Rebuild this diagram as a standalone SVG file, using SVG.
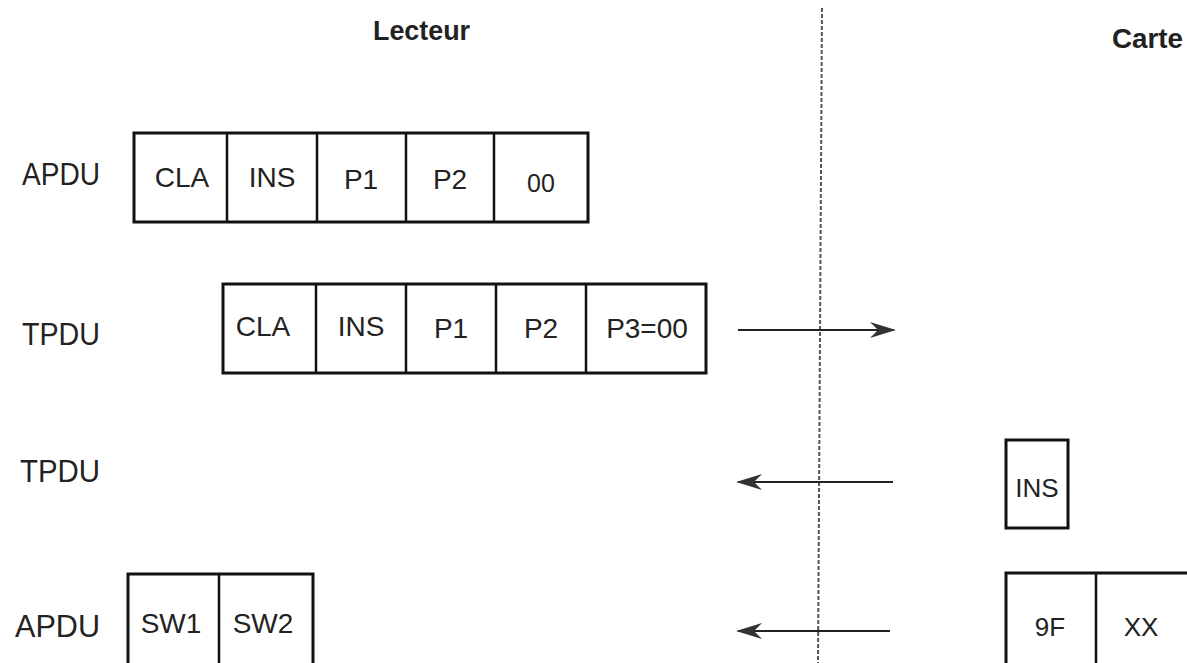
<svg xmlns="http://www.w3.org/2000/svg" width="1187" height="663" viewBox="0 0 1187 663">
<style>
text{font-family:"Liberation Sans",Arial,sans-serif;fill:#222}
.lbl{font-size:31px}
.cell{font-size:28px;text-anchor:middle}
.hd{font-size:28px;font-weight:bold}
.box{fill:#fff;stroke:#111;stroke-width:3}
.div{stroke:#111;stroke-width:2.5}
.arr{stroke:#222;stroke-width:2;fill:none}
</style>
<defs>
<marker id="ah" viewBox="0 0 26 16" refX="24" refY="8" markerWidth="26" markerHeight="16" markerUnits="userSpaceOnUse" orient="auto">
<path d="M0,0 L26,8 L0,16 L8,8 Z" fill="#333"/>
</marker>
</defs>
<rect width="1187" height="663" fill="#fff"/>
<text class="hd" x="373" y="40" textLength="97" lengthAdjust="spacingAndGlyphs">Lecteur</text>
<text class="hd" x="1112" y="48" textLength="71" lengthAdjust="spacingAndGlyphs">Carte</text>
<text class="lbl" x="22" y="185" textLength="78" lengthAdjust="spacingAndGlyphs">APDU</text>
<text class="lbl" x="22" y="345" textLength="78" lengthAdjust="spacingAndGlyphs">TPDU</text>
<text class="lbl" x="20" y="482" textLength="80" lengthAdjust="spacingAndGlyphs">TPDU</text>
<text class="lbl" x="15" y="637" textLength="85" lengthAdjust="spacingAndGlyphs">APDU</text>

<g id="apdu1">
<rect class="box" x="134" y="133" width="454" height="89"/>
<line class="div" x1="227" y1="133" x2="227" y2="222"/>
<line class="div" x1="317" y1="133" x2="317" y2="222"/>
<line class="div" x1="406" y1="133" x2="406" y2="222"/>
<line class="div" x1="494" y1="133" x2="494" y2="222"/>
<text class="cell" x="182" y="187">CLA</text>
<text class="cell" x="272" y="187">INS</text>
<text class="cell" x="361" y="189">P1</text>
<text class="cell" x="450" y="189">P2</text>
<text class="cell" x="541" y="192" style="font-size:25px">00</text>
</g>

<g id="tpdu1">
<rect class="box" x="223" y="284" width="483" height="89"/>
<line class="div" x1="316" y1="284" x2="316" y2="373"/>
<line class="div" x1="406" y1="284" x2="406" y2="373"/>
<line class="div" x1="496" y1="284" x2="496" y2="373"/>
<line class="div" x1="586" y1="284" x2="586" y2="373"/>
<text class="cell" x="263" y="336">CLA</text>
<text class="cell" x="361" y="336">INS</text>
<text class="cell" x="451" y="338">P1</text>
<text class="cell" x="541" y="338">P2</text>
<text class="cell" x="647" y="338">P3=00</text>
</g>

<g id="ins">
<rect class="box" x="1006" y="440" width="62" height="88"/>
<text class="cell" x="1037" y="497" style="font-size:26px">INS</text>
</g>

<g id="sw">
<rect class="box" x="128" y="574" width="185" height="95"/>
<line class="div" x1="219" y1="574" x2="219" y2="663"/>
<text class="cell" x="171" y="633">SW1</text>
<text class="cell" x="263" y="633">SW2</text>
</g>

<g id="sw9f">
<rect class="box" x="1006" y="573" width="190" height="95"/>
<line class="div" x1="1096" y1="573" x2="1096" y2="663"/>
<text class="cell" x="1050" y="636" style="font-size:26px">9F</text>
<text class="cell" x="1141" y="636" style="font-size:26px">XX</text>
</g>

<g id="connectors">
<line x1="822" y1="8" x2="818" y2="663" stroke="#555" stroke-width="2" stroke-dasharray="4,2"/>
<line class="arr" x1="738" y1="330" x2="894" y2="330" marker-end="url(#ah)"/>
<line class="arr" x1="893" y1="482" x2="738" y2="482" marker-end="url(#ah)"/>
<line class="arr" x1="890" y1="631" x2="738" y2="631" marker-end="url(#ah)"/>
</g>
</svg>
